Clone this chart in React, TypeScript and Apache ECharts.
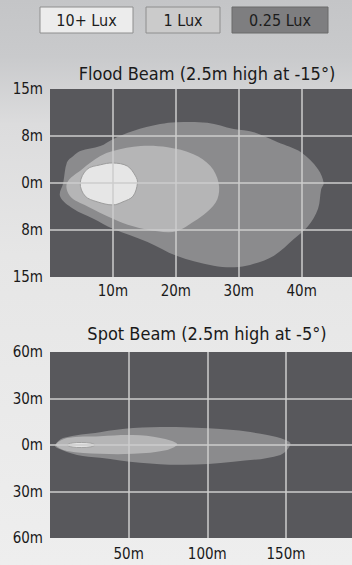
import React, { useEffect, useRef } from "react";
import * as echarts from "echarts";

// ---------- data ----------
const legendLabels = ["10+ Lux", "1 Lux", "0.25 Lux"];
const floodTitle = "Flood Beam (2.5m high at -15°)";
const spotTitle = "Spot Beam (2.5m high at -5°)";

// Flood beam contours [distance m, lateral m]
const floodOuter: number[][] = [
  [2.1, 0], [2.7, 3.3], [3.7, 4.3], [4.8, 5.1], [8.0, 5.9], [10.0, 7.0], [13.2, 8.3],
  [17.5, 9.4], [20.1, 9.7], [25.0, 9.6], [29.2, 8.6], [32.4, 8.1], [36.2, 6.5],
  [39.9, 4.9], [42.6, 2.2], [43.5, 0], [43.1, -1.0], [42.6, -4.1], [41.0, -6.9],
  [38.8, -8.9], [35.6, -11.6], [32.4, -12.9], [30.0, -13.4], [26.0, -13.2],
  [20.1, -11.6], [15.5, -9.4], [10.0, -7.3], [6.9, -5.7], [3.7, -4.1], [1.6, -2.1],
];
const floodMid: number[][] = [
  [2.7, 0], [5.1, 2.2], [8.0, 4.3], [10.0, 5.1], [14.4, 5.9], [18.7, 5.7], [22.8, 4.6],
  [25.5, 2.7], [26.8, 0], [26.6, -2.6], [25.0, -4.6], [22.8, -6.2], [20.1, -7.7],
  [17.1, -7.7], [13.2, -6.9], [10.0, -5.7], [5.9, -3.7], [3.2, -2.1],
];
const floodInner: number[][] = [
  [4.8, 0], [5.9, 2.2], [8.0, 2.9], [10.0, 3.2], [12.3, 2.7], [13.6, 1.1], [13.9, 0],
  [13.2, -2.1], [11.6, -3.0], [10.0, -3.5], [7.5, -3.0], [5.6, -2.1],
];

// Spot beam contours [distance m, lateral m]
const spotOuter: number[][] = [
  [3.2, 0], [8.3, 4.5], [31.8, 8.3], [52.9, 10.9], [84.7, 11.5], [116.6, 9.6],
  [138.2, 6.4], [149.7, 3.2], [152.9, 0.6], [146.5, -6.4], [116.6, -10.8],
  [84.7, -12.8], [57.3, -11.5], [31.8, -8.3], [17.2, -6.4], [4.5, -1.9],
];
const spotMid: number[][] = [
  [3.8, 0], [10.8, 4.5], [31.8, 5.7], [52.9, 6.4], [70.1, 4.5], [80.9, 0.6],
  [74.5, -3.2], [52.9, -5.7], [31.8, -5.7], [10.8, -3.8],
];
const spotInner: number[][] = [
  [10.8, 0], [14, 1.3], [20, 1.6], [26, 1.2], [28.7, 0], [26, -1.2], [20, -1.6], [14, -1.3],
];

// ---------- styles ----------
const FONT = "'Liberation Sans Narrow', 'DejaVu Sans Condensed', Roboto, sans-serif";
const PLOT_BG = "#58585c";
const C_LOW = "#8b8b8d";
const C_MID = "#b5b5b6";
const C_HIGH = "#e6e6e6";
const GRIDLINE = "#cdcdcd";

function poly(points: number[][], fill: string, idx: number, stroke?: string) {
  return {
    type: "custom",
    xAxisIndex: idx,
    yAxisIndex: idx,
    data: points,
    clip: true,
    z: 1,
    silent: true,
    renderItem: (params: any, api: any) => {
      if (params.dataIndex !== 0) return null;
      return {
        type: "polygon",
        shape: { points: points.map((p) => api.coord(p)), smooth: 0.35 },
        style: { fill, stroke: stroke || fill, lineWidth: stroke ? 1 : 0 },
      };
    },
  };
}

export default function App() {
  const ref = useRef<HTMLDivElement>(null);
  useEffect(() => {
    document.body.style.margin = "0";
    const chart = echarts.init(ref.current!, null, { renderer: "svg" });
    const axisLabel = { color: "#1a1a1a", fontFamily: FONT, fontSize: 15 };
    const boxes = [
      { x: 40, w: 93, fill: "#ececec", stroke: "#8e8e8e" },
      { x: 146, w: 74, fill: "#cbcbcb", stroke: "#8e8e8e" },
      { x: 232, w: 96, fill: "#7e7e80", stroke: "#6a6a6a" },
    ];
    const graphic: any[] = [];
    boxes.forEach((b, i) => {
      graphic.push({
        type: "rect",
        shape: { x: b.x, y: 7, width: b.w, height: 26 },
        style: { fill: b.fill, stroke: b.stroke, lineWidth: 1 },
      });
      graphic.push({
        type: "text",
        x: b.x + b.w / 2,
        y: 20,
        style: {
          text: legendLabels[i],
          fill: "#1c1c1c",
          font: `16px ${FONT}`,
          align: "center",
          verticalAlign: "middle",
        },
      });
    });
    graphic.push({
      type: "text", x: 207, y: 73,
      style: { text: floodTitle, fill: "#1a1a1a", font: `18px ${FONT}`, align: "center", verticalAlign: "middle" },
    });
    graphic.push({
      type: "text", x: 207, y: 333,
      style: { text: spotTitle, fill: "#1a1a1a", font: `18px ${FONT}`, align: "center", verticalAlign: "middle" },
    });

    const split = { show: true, showMinLine: false, showMaxLine: false, lineStyle: { color: GRIDLINE, width: 1.5 } };
    const xFmt = (max: number) => (v: number) => (v === 0 || v === max ? "" : `${v}m`);
    chart.setOption({
      animation: false,
      backgroundColor: "transparent",
      graphic,
      grid: [
        { left: 50, top: 89, right: 0, height: 188, show: true, backgroundColor: PLOT_BG, borderWidth: 0, outerBoundsMode: "none", containLabel: false },
        { left: 50, top: 352, right: 0, height: 186, show: true, backgroundColor: PLOT_BG, borderWidth: 0, outerBoundsMode: "none", containLabel: false },
      ],
      xAxis: [
        {
          gridIndex: 0, type: "value", min: 0, max: 48, interval: 10, z: 5,
          axisLine: { show: false }, axisTick: { show: false }, splitLine: split,
          axisLabel: { ...axisLabel, margin: 6, formatter: xFmt(48) },
        },
        {
          gridIndex: 1, type: "value", min: 0, max: 192, interval: 50, z: 5,
          axisLine: { show: false }, axisTick: { show: false }, splitLine: split,
          axisLabel: { ...axisLabel, margin: 8, formatter: xFmt(192) },
        },
      ],
      yAxis: [
        {
          gridIndex: 0, type: "value", min: -15, max: 15, interval: 7.5, z: 5,
          axisLine: { show: false }, axisTick: { show: false }, splitLine: split,
          axisLabel: { ...axisLabel, margin: 7, formatter: (v: number) => `${Math.round(Math.abs(v))}m` },
        },
        {
          gridIndex: 1, type: "value", min: -60, max: 60, interval: 30, z: 5,
          axisLine: { show: false }, axisTick: { show: false }, splitLine: split,
          axisLabel: { ...axisLabel, margin: 7, formatter: (v: number) => `${Math.abs(v)}m` },
        },
      ],
      series: [
        poly(floodOuter, C_LOW, 0),
        poly(floodMid, C_MID, 0),
        poly(floodInner, C_HIGH, 0, "#9c9c9c"),
        poly(spotOuter, C_LOW, 1),
        poly(spotMid, C_MID, 1),
        poly(spotInner, C_HIGH, 1, "#a0a0a0"),
      ],
    });
    return () => chart.dispose();
  }, []);
  return (
    <div
      style={{
        width: 352,
        height: 565,
        background: "linear-gradient(180deg, #c4c5c7 0%, #c9cacc 10%, #dcdcdd 22%, #e6e6e6 45%, #eeeeee 100%)",
      }}
    >
      <div ref={ref} style={{ width: 352, height: 565 }} />
    </div>
  );
}
